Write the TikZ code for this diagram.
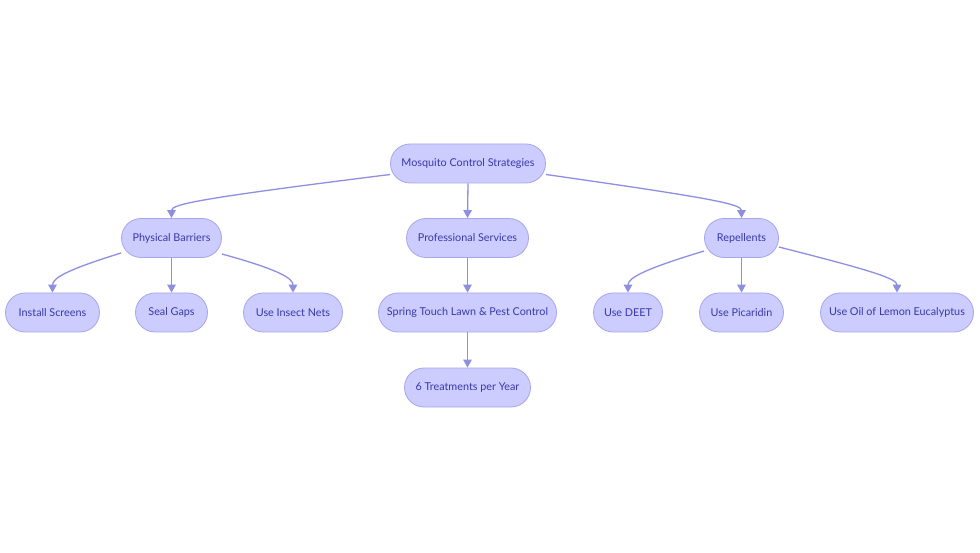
\documentclass[tikz,border=0pt]{standalone}
\usepackage{fontspec}
\setmainfont{Lato}
\usetikzlibrary{shapes.misc,arrows.meta,calc}
\definecolor{nfill}{HTML}{CCCCFF}
\definecolor{nline}{HTML}{A6A6EC}
\definecolor{ntext}{HTML}{3838A8}
\definecolor{aline}{HTML}{8E8EE2}
\begin{document}
\begin{tikzpicture}[x=1pt,y=-1pt,
  box/.style={rounded rectangle, fill=nfill, draw=nline, line width=0.8pt, text=ntext,
    font=\fontsize{10.8}{12}\selectfont, minimum height=39pt, inner xsep=2pt},
  arr/.style={draw=aline, line width=1.3pt, -{Triangle[length=8pt,width=8.5pt]}}]
\useasboundingbox[fill=white] (0,0) rectangle (980,553);
\node[box, minimum width=159pt] (root) at (468,163.5) {Mosquito Control Strategies};
\node[box, minimum width=104pt] (pb) at (171.5,238) {Physical Barriers};
\node[box, minimum width=126pt] (ps) at (467.5,238) {Professional Services};
\node[box, minimum width=78pt] (rep) at (741.5,238) {Repellents};
\node[box, minimum width=98pt] (inst) at (52.5,312.5) {Install Screens};
\node[box, minimum width=76pt] (seal) at (171.5,312.5) {Seal Gaps};
\node[box, minimum width=103pt] (nets) at (293,312.5) {Use Insect Nets};
\node[box, minimum width=182pt] (st) at (467.5,312.5) {Spring Touch Lawn \& Pest Control};
\node[box, minimum width=73pt] (deet) at (628,312.5) {Use DEET};
\node[box, minimum width=88pt] (pic) at (741.5,312.5) {Use Picaridin};
\node[box, minimum width=157pt] (oil) at (897,312.5) {Use Oil of Lemon Eucalyptus};
\node[box, minimum width=130pt] (six) at (467.5,387.5) {6 Treatments per Year};
% curved connectors
\draw[arr] ($(root.west)+(0,11)$) .. controls ($(pb.north)+(30,-20)$) and ($(pb.north)+(0,-14)$) .. (pb.north);
\draw[arr] ($(root.east)+(0,11)$) .. controls ($(rep.north)+(-30,-20)$) and ($(rep.north)+(0,-14)$) .. (rep.north);
\draw[arr] ($(pb.west)+(0,15)$) .. controls ($(inst.north)+(18,-24)$) and ($(inst.north)+(0,-15)$) .. (inst.north);
\draw[arr] ($(pb.east)+(0,16)$) .. controls ($(nets.north)+(-18,-24)$) and ($(nets.north)+(0,-15)$) .. (nets.north);
\draw[arr] ($(rep.west)+(0,13)$) .. controls ($(deet.north)+(18,-24)$) and ($(deet.north)+(0,-15)$) .. (deet.north);
\draw[arr] ($(rep.east)+(0,9)$) .. controls ($(oil.north)+(-25,-22)$) and ($(oil.north)+(0,-14)$) .. (oil.north);
% straight connectors
\draw[arr] (root.south) -- (ps.north);
\draw[arr] (pb.south) -- (seal.north);
\draw[arr] (ps.south) -- (st.north);
\draw[arr] (rep.south) -- (pic.north);
\draw[arr] (st.south) -- (six.north);
\end{tikzpicture}
\end{document}
